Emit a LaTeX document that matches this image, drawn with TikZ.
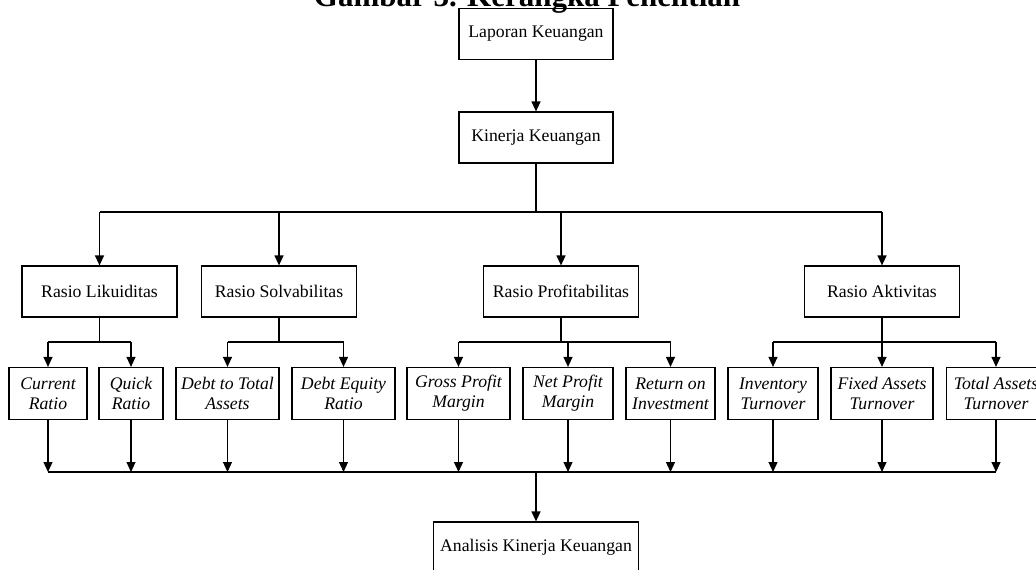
\documentclass[tikz,border=0pt]{standalone}
\usepackage{fontspec}
\setmainfont{Liberation Serif}
\usetikzlibrary{arrows.meta}
\tikzset{
  box/.style={draw, line width=1.2pt, minimum height=51pt, align=center, inner sep=2pt, font=\fontsize{17.7}{20}\selectfont},
  leaf/.style={box, minimum height=52pt, font=\fontsize{17.7}{20}\selectfont\itshape},
  wire/.style={line width=1.2pt},
  link/.style={wire, -{Triangle[length=10pt,width=9pt]}},
}
\begin{document}
\begin{tikzpicture}[x=1pt,y=-1pt]
\useasboundingbox (0,0) rectangle (1036,570);
% Title, cut by the top edge
\node[anchor=base, inner sep=0pt, font=\fontsize{31}{34}\selectfont\bfseries] (judul) at (527,6) {Gambar 3. Kerangka Penelitian};
% Drawing boxes
\node[box, minimum width=154pt] (laporan) at (536,34) {Laporan Keuangan};
\node[box, minimum width=154pt] (kinerja) at (536,137.5) {Kinerja Keuangan};
% Line 2: ratio groups
\node[box, minimum width=155pt] (likuid) at (99.5,291.5) {Rasio Likuiditas};
\node[box, minimum width=155pt] (solva) at (279,291.5) {Rasio Solvabilitas};
\node[box, minimum width=155pt] (profit) at (561,291.5) {Rasio Profitabilitas};
\node[box, minimum width=155pt] (aktiv) at (882,291.5) {Rasio Aktivitas};
% Line 3: single ratios
\node[leaf, minimum width=78pt] (current) at (48,393.5) {Current\\Ratio};
\node[leaf, minimum width=64pt] (quick) at (131,393.5) {Quick\\Ratio};
\node[leaf, minimum width=103pt] (dta) at (227.5,393.5) {Debt to Total\\Assets};
\node[leaf, minimum width=103pt] (der) at (343.5,393.5) {Debt Equity\\Ratio};
\node[leaf, minimum width=103pt] (gpm) at (458.5,393.5) {Gross Profit\\Margin};
\node[leaf, minimum width=90pt] (npm) at (568,393.5) {Net Profit\\Margin};
\node[leaf, minimum width=89pt] (roi) at (670.5,393.5) {Return on\\Investment};
\node[leaf, minimum width=90pt] (ito) at (773,393.5) {Inventory\\Turnover};
\node[leaf, minimum width=102pt] (fato) at (882,393.5) {Fixed Assets\\Turnover};
\node[leaf, minimum width=99pt] (tato) at (996,393.5) {Total Assets\\Turnover};
% Line 4: result
\node[box, minimum width=205pt] (analisis) at (536,547.5) {Analisis Kinerja Keuangan};
% Done with boxes; drawing connectors
\draw[link] (laporan) -- (kinerja);
\coordinate (pecah) at (kinerja |- 0,212);
\draw[wire] (kinerja) -- (pecah);
\draw[wire] (pecah -| likuid) -- (pecah -| aktiv);
\foreach \n in {likuid,solva,profit,aktiv}
  \draw[link] (pecah -| \n) -- (\n);
% Group brackets
\foreach \g/\a/\b in {likuid/current/quick, solva/dta/der, profit/gpm/roi, aktiv/ito/tato} {
  \draw[wire] (\g) -- (\g |- 0,342);
  \draw[wire] (\a |- 0,342) -- (\b |- 0,342);
}
\foreach \g/\n in {likuid/current, likuid/quick, solva/dta, solva/der, profit/gpm, profit/npm, profit/roi, aktiv/ito, aktiv/fato, aktiv/tato}
  \draw[link] (\n |- 0,342) -- (\n);
% Joining line
\coordinate (gabung) at (analisis |- 0,472);
\foreach \n in {current,quick,dta,der,gpm,npm,roi,ito,fato,tato}
  \draw[link] (\n) -- (\n |- gabung);
\draw[wire] (current |- gabung) -- (tato |- gabung);
\draw[link] (gabung) -- (analisis);
% Done with connectors
\end{tikzpicture}
\end{document}
